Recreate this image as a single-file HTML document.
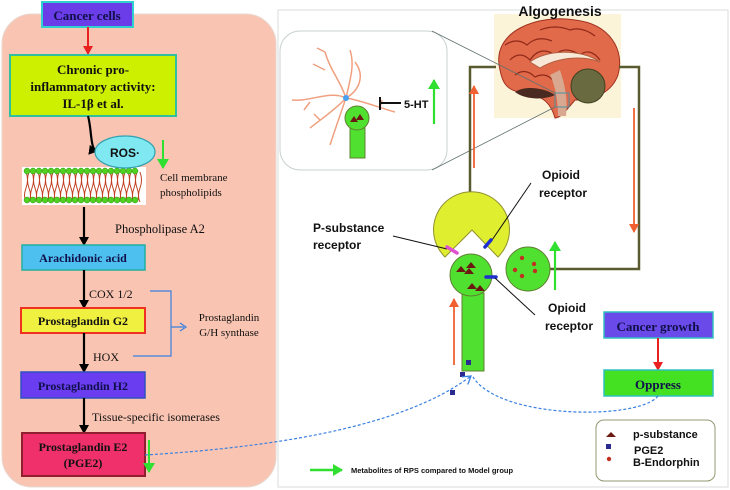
<!DOCTYPE html>
<html><head><meta charset="utf-8"><style>
html,body{margin:0;padding:0;background:#fff;}
svg{display:block;}
.s{font-family:"Liberation Serif",serif;}
.b{font-family:"Liberation Sans",sans-serif;font-weight:bold;}
</style></head><body>
<svg width="730" height="490" viewBox="0 0 730 490" xmlns="http://www.w3.org/2000/svg">
<defs>
<marker id="ak" markerWidth="10" markerHeight="10" refX="8" refY="5" orient="auto" markerUnits="userSpaceOnUse"><path d="M0,0 L9,5 L0,10 Z" fill="#000"/></marker>
<marker id="ar" markerWidth="10" markerHeight="10" refX="8" refY="5" orient="auto" markerUnits="userSpaceOnUse"><path d="M0,0 L9,5 L0,10 Z" fill="#e82020"/></marker>
<marker id="ag" markerWidth="12" markerHeight="12" refX="9" refY="6" orient="auto" markerUnits="userSpaceOnUse"><path d="M0,0 L10,6 L0,12 Z" fill="#30e030"/></marker>
<marker id="ao" markerWidth="10" markerHeight="10" refX="8" refY="5" orient="auto" markerUnits="userSpaceOnUse"><path d="M0,0 L9,5 L0,10 Z" fill="#f06030"/></marker>
<marker id="ab" markerWidth="10" markerHeight="10" refX="8" refY="5" orient="auto" markerUnits="userSpaceOnUse"><path d="M0,0 L8,5 L0,10" fill="none" stroke="#3a80e0" stroke-width="1.3"/></marker>
</defs>
<!-- Left panel -->
<rect x="2" y="14" width="274" height="473" rx="30" fill="#f9c4b2" stroke="#e8d8d0"/>
<rect x="42" y="2" width="91" height="25" fill="#6a3de8" stroke="#30d0d0" stroke-width="2"/>
<text x="87" y="20" class="s" font-size="13" font-weight="bold" fill="#10104a" text-anchor="middle">Cancer cells</text>
<line x1="88" y1="27" x2="88" y2="54" stroke="#e82020" stroke-width="2" marker-end="url(#ar)"/>
<rect x="10" y="55" width="166" height="61" fill="#ccf000" stroke="#30c0a0" stroke-width="2"/>
<text class="s" font-size="13" font-weight="bold" fill="#111" text-anchor="middle"><tspan x="93" y="74">Chronic pro-</tspan><tspan x="93" y="91">inflammatory activity:</tspan><tspan x="93" y="108">IL-1β et al.</tspan></text>
<path d="M88,116 C92,130 90,150 97,151" fill="none" stroke="#000" stroke-width="2.2" marker-end="url(#ak)"/>
<g>
<rect x="22" y="167" width="124" height="38" fill="#fff"/>
<g stroke="#c04020" stroke-width="1" fill="none">
<path d="M26,172 q3,8 0,16 q-3,8 0,14 M32,172 q3,8 0,16 q-3,8 0,14 M38,172 q3,8 0,16 q-3,8 0,14 M44,172 q3,8 0,16 q-3,8 0,14 M50,172 q3,8 0,16 q-3,8 0,14 M56,172 q3,8 0,16 q-3,8 0,14 M62,172 q3,8 0,16 q-3,8 0,14 M68,172 q3,8 0,16 q-3,8 0,14 M74,172 q3,8 0,16 q-3,8 0,14 M80,172 q3,8 0,16 q-3,8 0,14 M86,172 q3,8 0,16 q-3,8 0,14 M92,172 q3,8 0,16 q-3,8 0,14 M98,172 q3,8 0,16 q-3,8 0,14 M104,172 q3,8 0,16 q-3,8 0,14 M110,172 q3,8 0,16 q-3,8 0,14 M116,172 q3,8 0,16 q-3,8 0,14 M122,172 q3,8 0,16 q-3,8 0,14 M128,172 q3,8 0,16 q-3,8 0,14 M134,172 q3,8 0,16 q-3,8 0,14 M140,172 q3,8 0,16 q-3,8 0,14"/>
<path d="M29,172 q-3,8 0,16 q3,8 0,14 M35,172 q-3,8 0,16 q3,8 0,14 M41,172 q-3,8 0,16 q3,8 0,14 M47,172 q-3,8 0,16 q3,8 0,14 M53,172 q-3,8 0,16 q3,8 0,14 M59,172 q-3,8 0,16 q3,8 0,14 M65,172 q-3,8 0,16 q3,8 0,14 M71,172 q-3,8 0,16 q3,8 0,14 M77,172 q-3,8 0,16 q3,8 0,14 M83,172 q-3,8 0,16 q3,8 0,14 M89,172 q-3,8 0,16 q3,8 0,14 M95,172 q-3,8 0,16 q3,8 0,14 M101,172 q-3,8 0,16 q3,8 0,14 M107,172 q-3,8 0,16 q3,8 0,14 M113,172 q-3,8 0,16 q3,8 0,14 M119,172 q-3,8 0,16 q3,8 0,14 M125,172 q-3,8 0,16 q3,8 0,14 M131,172 q-3,8 0,16 q3,8 0,14 M137,172 q-3,8 0,16 q3,8 0,14"/>
</g>
<g fill="#50d020" stroke="#309010" stroke-width="0.5" id="row">
<circle cx="27" cy="171" r="3"/><circle cx="33" cy="171" r="3"/><circle cx="39" cy="171" r="3"/><circle cx="45" cy="171" r="3"/><circle cx="51" cy="171" r="3"/><circle cx="57" cy="171" r="3"/><circle cx="63" cy="171" r="3"/><circle cx="69" cy="171" r="3"/><circle cx="75" cy="171" r="3"/><circle cx="81" cy="171" r="3"/><circle cx="87" cy="171" r="3"/><circle cx="93" cy="171" r="3"/><circle cx="99" cy="171" r="3"/><circle cx="105" cy="171" r="3"/><circle cx="111" cy="171" r="3"/><circle cx="117" cy="171" r="3"/><circle cx="123" cy="171" r="3"/><circle cx="129" cy="171" r="3"/><circle cx="135" cy="171" r="3"/>
</g>
<use href="#row" y="29"/>
</g>
<ellipse cx="125" cy="152" rx="30" ry="16" fill="#80e8f0" stroke="#30a0b0" stroke-width="1.2"/>
<text x="125" y="157" class="b" font-size="12" fill="#111" text-anchor="middle">ROS·</text>
<line x1="163" y1="140" x2="163" y2="168" stroke="#30e030" stroke-width="2" marker-end="url(#ag)"/>
<text class="s" font-size="11" fill="#111"><tspan x="160" y="181">Cell membrane</tspan><tspan x="160" y="196">phospholipids</tspan></text>
<line x1="84" y1="207" x2="84" y2="245" stroke="#000" stroke-width="2.2" marker-end="url(#ak)"/>
<text x="115" y="233" class="s" font-size="12.5" fill="#111">Phospholipase A2</text>
<rect x="22" y="245" width="123" height="25" fill="#4ec0f0" stroke="#20b0a0" stroke-width="1.5"/>
<text x="83" y="262" class="s" font-size="12" font-weight="bold" fill="#10104a" text-anchor="middle">Arachidonic acid</text>
<line x1="84" y1="270" x2="84" y2="308" stroke="#000" stroke-width="2.2" marker-end="url(#ak)"/>
<text x="89" y="298" class="s" font-size="12" fill="#111">COX 1/2</text>
<rect x="21" y="308" width="124" height="25" fill="#f0f040" stroke="#f03020" stroke-width="2"/>
<text x="83" y="325" class="s" font-size="12" font-weight="bold" fill="#111" text-anchor="middle">Prostaglandin G2</text>
<path d="M150,291 H171 V356 H133 M171,327 H184" fill="none" stroke="#3a80e0" stroke-width="1.2"/>
<path d="M180,323 L186,327 L180,331" fill="none" stroke="#3a80e0" stroke-width="1.2"/>
<text class="s" font-size="11" fill="#111" text-anchor="middle"><tspan x="229" y="321">Prostaglandin</tspan><tspan x="229" y="336">G/H synthase</tspan></text>
<line x1="84" y1="333" x2="84" y2="372" stroke="#000" stroke-width="2.2" marker-end="url(#ak)"/>
<text x="93" y="361" class="s" font-size="12" fill="#111">HOX</text>
<rect x="21" y="372" width="124" height="26" fill="#6a3df0" stroke="#3050c0" stroke-width="1.5"/>
<text x="83" y="390" class="s" font-size="12" font-weight="bold" fill="#10104a" text-anchor="middle">Prostaglandin H2</text>
<line x1="84" y1="398" x2="84" y2="433" stroke="#000" stroke-width="2.2" marker-end="url(#ak)"/>
<text x="92" y="421" class="s" font-size="12" fill="#111">Tissue-specific isomerases</text>
<rect x="22" y="433" width="123" height="43" fill="#f0306a" stroke="#902030" stroke-width="2"/>
<text class="s" font-size="12" font-weight="bold" fill="#111" text-anchor="middle"><tspan x="83" y="451">Prostaglandin E2</tspan><tspan x="83" y="467">(PGE2)</tspan></text>
<line x1="149" y1="440" x2="149" y2="472" stroke="#30e030" stroke-width="2" marker-end="url(#ag)"/>
<!-- Right panel -->
<rect x="278" y="10" width="450" height="477" fill="none" stroke="#d8dcdc" stroke-width="1"/>
<rect x="280" y="31" width="167" height="139" rx="20" fill="#fff" stroke="#c8d0d0"/>
<!-- brain -->
<rect x="494" y="14" width="127" height="104" fill="#fbf4d8"/>
<path d="M500,70 C490,30 540,14 575,20 C610,24 625,50 618,75 C612,92 595,100 575,100 C565,112 560,118 555,118 C550,100 540,95 520,92 C505,90 502,80 500,70Z" fill="#e06a4a" stroke="#a03020"/>
<path d="M510,60 q10,-10 20,0 q10,-15 25,-5 q10,-10 25,0 q10,-8 20,5 M515,75 q10,-8 20,2 q12,-6 20,6 M505,45 q12,-8 22,0 q10,-10 25,-4 M540,30 q15,-6 30,0 q12,-4 25,6" fill="none" stroke="#902818" stroke-width="1.2"/>
<path d="M530,62 C545,50 580,48 600,62 C585,56 560,56 540,68Z" fill="#f8e8d8" stroke="#b06040"/>
<circle cx="588" cy="86" r="17" fill="#6a6a40" stroke="#404020"/>
<path d="M560,70 C565,85 568,100 566,116 L558,116 C558,100 555,85 550,75Z" fill="#d8a890"/>
<path d="M515,92 C525,85 545,88 555,95 C545,100 525,100 515,92Z" fill="#4a2a20"/>
<rect x="555" y="93" width="14" height="14" fill="none" stroke="#5090a0" stroke-width="1"/>
<line x1="432" y1="31" x2="555" y2="93" stroke="#607070" stroke-width="0.8"/>
<line x1="432" y1="170" x2="555" y2="107" stroke="#607070" stroke-width="0.8"/>
<text x="560" y="16" class="b" font-size="14" fill="#111" text-anchor="middle">Algogenesis</text>
<!-- loop -->
<path d="M470,195 V67 H496 M619,67 H639 V269 H550" fill="none" stroke="#5a5a30" stroke-width="2.5"/>
<line x1="474" y1="168" x2="474" y2="86" stroke="#f06030" stroke-width="1.8" marker-end="url(#ao)"/>
<line x1="634" y1="108" x2="634" y2="232" stroke="#f06030" stroke-width="1.8" marker-end="url(#ao)"/>
<!-- inset neuron -->
<g stroke="#f0a080" stroke-width="1.5" fill="none">
<path d="M346,98 C330,90 310,102 292,100 M346,98 C340,80 330,70 325,52 M346,98 C350,80 355,65 350,50 M346,98 C360,90 365,75 355,62 M346,98 C360,100 380,108 395,112 M346,98 C335,110 320,120 310,128 M346,98 C340,115 335,130 330,145 M325,52 l-8,-4 M325,70 l-12,-6 M310,102 l-6,8 M380,108 l2,-8 M320,120 l-6,-6"/>
</g>
<circle cx="346" cy="98" r="3" fill="#4aa0f0"/>
<rect x="350" y="126" width="15" height="32" fill="#50e030" stroke="#608030"/>
<circle cx="357" cy="118" r="12" fill="#50e030" stroke="#608030"/>
<path d="M350,122 l4,-6 l4,6Z M356,120 l4,-6 l4,6Z" fill="#6a1a10"/>
<path d="M380,97 V110 M380,103 H401" stroke="#111" stroke-width="2" fill="none"/>
<text x="404" y="108" class="b" font-size="11" fill="#111">5-HT</text>
<line x1="434" y1="124" x2="434" y2="80" stroke="#30e030" stroke-width="2.2" marker-end="url(#ag)"/>
<!-- receptor pacman -->
<path d="M445,257 A38,38 0 1 1 498,257 L472,230 Z" fill="#e0ee30" stroke="#909030" stroke-width="1"/>
<rect x="462" y="293" width="22" height="78" fill="#50e030" stroke="#608030"/>
<circle cx="471" cy="275" r="21" fill="#50e030" stroke="#608030"/>
<path d="M456,272 l5,-6 l5,6Z M466,268 l5,-6 l5,6Z M464,274 l5,-6 l5,6Z M467,289 l5,-6 l5,6Z M475,291 l5,-6 l5,6Z" fill="#6a1a10"/>
<circle cx="528" cy="269" r="22" fill="#50e030" stroke="#608030"/>
<g fill="#c03020"><circle cx="522" cy="258" r="2.2"/><circle cx="534" cy="264" r="2.2"/><circle cx="515" cy="270" r="2.2"/><circle cx="535" cy="271" r="2.2"/><circle cx="522" cy="276" r="2.2"/></g>
<line x1="555" y1="290" x2="555" y2="242" stroke="#30e030" stroke-width="2.2" marker-end="url(#ag)"/>
<line x1="454" y1="365" x2="454" y2="299" stroke="#f06030" stroke-width="1.8" marker-end="url(#ao)"/>
<line x1="393" y1="236" x2="447" y2="249" stroke="#111" stroke-width="1"/>
<line x1="447" y1="247" x2="457" y2="253" stroke="#e050d0" stroke-width="3.5" stroke-linecap="round"/>
<line x1="531" y1="183" x2="490" y2="243" stroke="#111" stroke-width="1"/>
<line x1="485" y1="247" x2="491" y2="240" stroke="#2030d0" stroke-width="3.5" stroke-linecap="round"/>
<line x1="486" y1="277" x2="496" y2="277" stroke="#2030d0" stroke-width="3.5" stroke-linecap="round"/>
<line x1="495" y1="278" x2="535" y2="315" stroke="#111" stroke-width="1"/>
<text class="b" font-size="12" fill="#111"><tspan x="313" y="232">P-substance</tspan><tspan x="313" y="249">receptor</tspan></text>
<text class="b" font-size="12" fill="#111" text-anchor="middle"><tspan x="561" y="179">Opioid</tspan><tspan x="563" y="197">receptor</tspan></text>
<text class="b" font-size="12" fill="#111" text-anchor="middle"><tspan x="567" y="312">Opioid</tspan><tspan x="569" y="330">receptor</tspan></text>
<!-- squares -->
<rect x="466" y="360" width="5" height="5" fill="#2a2a90"/>
<rect x="460" y="372" width="5" height="5" fill="#2a2a90"/>
<rect x="450" y="390" width="5" height="5" fill="#2a2a90"/>
<!-- cancer growth -->
<rect x="604" y="312" width="109" height="26" fill="#6a4ae8" stroke="#30c0c0" stroke-width="1.5"/>
<text x="658" y="331" class="s" font-size="13" font-weight="bold" fill="#10104a" text-anchor="middle">Cancer growth</text>
<line x1="658" y1="338" x2="658" y2="370" stroke="#e82020" stroke-width="2" marker-end="url(#ar)"/>
<rect x="604" y="370" width="109" height="26" fill="#44e022" stroke="#30c0c0" stroke-width="1.5"/>
<text x="658" y="389" class="s" font-size="13" font-weight="bold" fill="#10104a" text-anchor="middle">Oppress</text>
<!-- dashed curves -->
<path d="M145,455 C260,448 400,430 471,376" fill="none" stroke="#3a80e0" stroke-width="1.2" stroke-dasharray="3,2" marker-end="url(#ab)"/>
<path d="M658,396 C640,420 500,420 473,377" fill="none" stroke="#3a80e0" stroke-width="1.2" stroke-dasharray="3,2"/>
<!-- legend -->
<rect x="596" y="420" width="119" height="61" rx="8" fill="#fff" stroke="#909870"/>
<path d="M606,437 l5,-5 l5,5Z" fill="#6a1a10"/>
<rect x="606" y="444" width="5" height="5" fill="#2a2a90"/>
<circle cx="609" cy="459" r="2.2" fill="#c03020"/>
<text class="b" font-size="11" fill="#111"><tspan x="633" y="438">p-substance</tspan><tspan x="634" y="454">PGE2</tspan><tspan x="633" y="466">B-Endorphin</tspan></text>
<line x1="310" y1="470" x2="342" y2="470" stroke="#30e030" stroke-width="2.5" marker-end="url(#ag)"/>
<text x="351" y="473" class="b" font-size="7.5" fill="#111">Metabolites of RPS compared to Model group</text>
</svg>
</body></html>
